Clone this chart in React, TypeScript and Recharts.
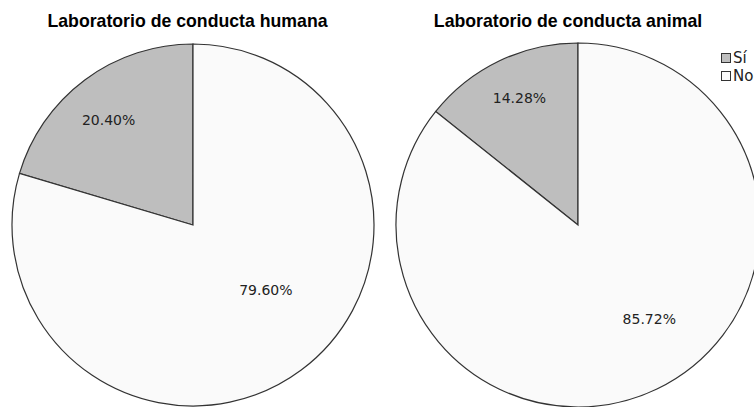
import React from "react";
import { PieChart, Pie, Cell, Legend } from "recharts";

const categories = ["Sí", "No"];
const humanaValues = [20.4, 79.6];
const animalValues = [14.28, 85.72];
const titles = ["Laboratorio de conducta humana", "Laboratorio de conducta animal"];

const colors = ["#bebebe", "#fafafa"];
const STROKE = "#333333";

// label placement per slice: [fraction of radius, angle shift in degrees]
const humanaLabelPos = [
  [0.745, 2],
  [0.54, 11.5],
];
const animalLabelPos = [
  [0.77, -1],
  [0.648, 11.5],
];

const humanaData = categories.map((name, i) => ({ name, value: humanaValues[i] }));
const animalData = categories.map((name, i) => ({ name, value: animalValues[i] }));

const RAD = Math.PI / 180;

const makeLabel = (pos: number[][]) => (props: any) => {
  const { cx, cy, midAngle, outerRadius, index, value } = props;
  const [f, shift] = pos[index];
  const a = (midAngle + shift) * RAD;
  const x = cx + outerRadius * f * Math.cos(-a);
  const y = cy + outerRadius * f * Math.sin(-a);
  return (
    <text
      x={x}
      y={y}
      textAnchor="middle"
      dominantBaseline="central"
      fill="#222"
      fontSize={14}
      fontFamily="DejaVu Sans"
    >
      {value.toFixed(2)}%
    </text>
  );
};

const LegendBox = () => (
  <div style={{ fontFamily: "DejaVu Sans", fontSize: 15, color: "#222" }}>
    {categories.map((c, i) => (
      <div key={c} style={{ display: "flex", alignItems: "center", height: 18 }}>
        <span
          style={{
            display: "inline-block",
            width: 8,
            height: 8,
            background: colors[i],
            border: `1px solid ${STROKE}`,
            marginRight: 2,
          }}
        />
        <span>{c}</span>
      </div>
    ))}
  </div>
);

export default function App() {
  return (
    <div style={{ position: "absolute", left: 0, top: 0, width: 754, height: 407, background: "#fff" }}>
      <PieChart width={754} height={407} margin={{ top: 0, right: 0, bottom: 0, left: 0 }}>
        <Pie
          data={humanaData}
          dataKey="value"
          nameKey="name"
          cx={193}
          cy={225}
          outerRadius={181}
          startAngle={90}
          endAngle={450}
          stroke={STROKE}
          strokeWidth={1.2}
          label={makeLabel(humanaLabelPos)}
          labelLine={false}
          isAnimationActive={false}
        >
          {humanaData.map((d, i) => (
            <Cell key={d.name} fill={colors[i]} />
          ))}
        </Pie>
        <Pie
          data={animalData}
          dataKey="value"
          nameKey="name"
          cx={578}
          cy={225}
          outerRadius={182}
          startAngle={90}
          endAngle={450}
          stroke={STROKE}
          strokeWidth={1.2}
          label={makeLabel(animalLabelPos)}
          labelLine={false}
          isAnimationActive={false}
        >
          {animalData.map((d, i) => (
            <Cell key={d.name} fill={colors[i]} />
          ))}
        </Pie>
        <Legend
          content={<LegendBox />}
          wrapperStyle={{ left: 721, top: 49, width: 40, right: "auto", bottom: "auto" }}
        />
      </PieChart>
      <svg
        width={754}
        height={60}
        style={{ position: "absolute", left: 0, top: 0, pointerEvents: "none" }}
      >
        <text x={187.5} y={27} textAnchor="middle" fontFamily="Liberation Sans" fontWeight="bold" fontSize={17.7} fill="#000">
          {titles[0]}
        </text>
        <text x={568} y={27} textAnchor="middle" fontFamily="Liberation Sans" fontWeight="bold" fontSize={17.7} fill="#000">
          {titles[1]}
        </text>
      </svg>
    </div>
  );
}
